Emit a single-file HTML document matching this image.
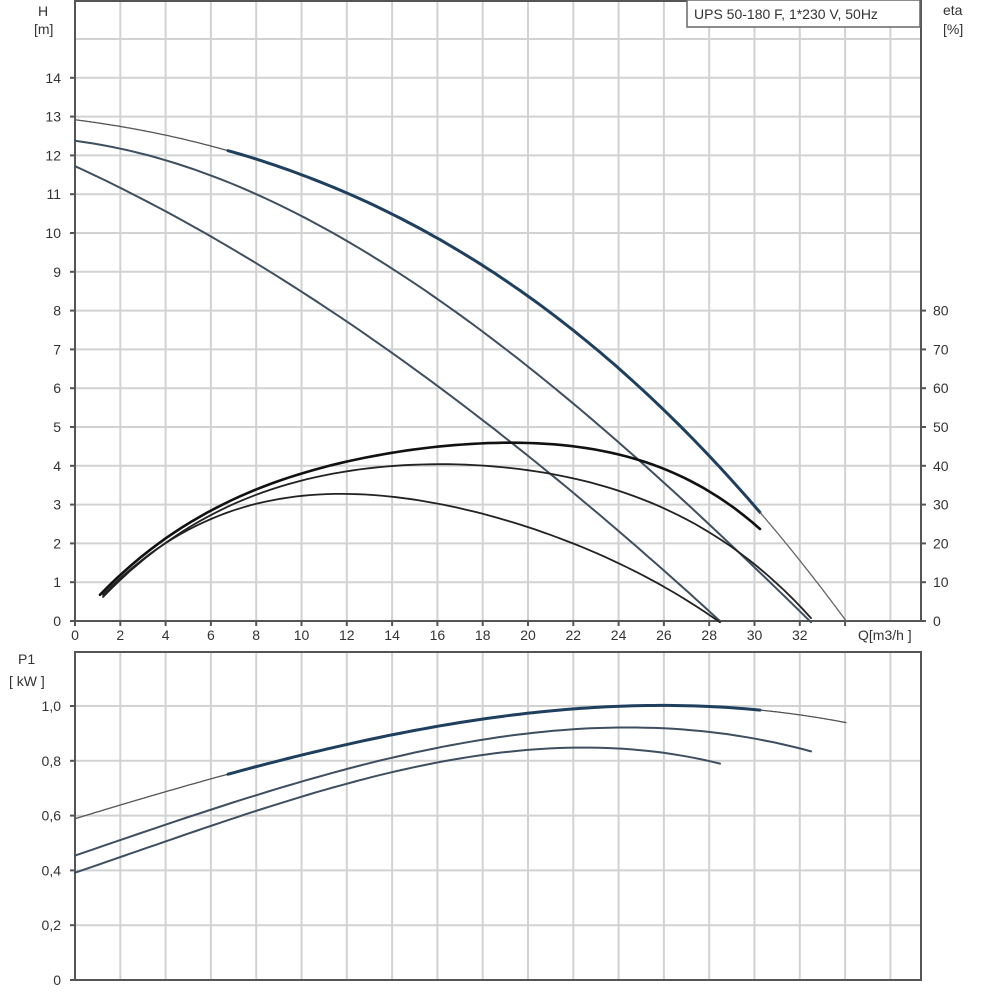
<!DOCTYPE html>
<html><head><meta charset="utf-8">
<style>
html,body{margin:0;padding:0;background:#fff;}
svg{display:block;font-family:"Liberation Sans",sans-serif;}
</style></head>
<body>
<svg id="s" width="984" height="1000" viewBox="0 0 984 1000" xmlns="http://www.w3.org/2000/svg">
<g id="grid" stroke="#d2d2d2" stroke-width="2"></g>
<g id="axes" stroke="#555" stroke-width="2" fill="none">
<line x1="75" y1="0" x2="75" y2="622"/>
<line x1="74" y1="621" x2="922" y2="621"/>
<line x1="921" y1="0" x2="921" y2="622"/>
<line x1="74" y1="1" x2="922" y2="1"/>
<line x1="75" y1="652" x2="75" y2="981"/>
<line x1="74" y1="980" x2="922" y2="980"/>
<line x1="921" y1="652" x2="921" y2="981"/>
<line x1="74" y1="652" x2="922" y2="652"/>
</g>
<g id="ticks" stroke="#555" stroke-width="2"></g>
<g id="labels" font-size="14" fill="#333"></g>
<rect x="687" y="0" width="233" height="27" fill="#fff" stroke="#666" stroke-width="1.5"/>
<text x="694" y="19" font-size="14" fill="#333">UPS 50-180 F, 1*230 V, 50Hz</text>
<text x="943" y="15" font-size="14" fill="#333">eta</text>
<text x="943" y="34" font-size="14" fill="#333">[%]</text>
<text x="38" y="16" font-size="14" fill="#333">H</text>
<text x="34" y="34" font-size="14" fill="#333">[m]</text>
<text x="18" y="664" font-size="14" fill="#333">P1</text>
<text x="9" y="686" font-size="14" fill="#333">[ kW ]</text>
<text x="858" y="640" font-size="14" fill="#333">Q[m3/h ]</text>
<g id="curves" fill="none" stroke-linecap="round"></g>
</svg>
<script>
var NS="http://www.w3.org/2000/svg";
function el(p,t,a,txt){var e=document.createElementNS(NS,t);for(var k in a)e.setAttribute(k,a[k]);if(txt!==undefined)e.textContent=txt;document.getElementById(p).appendChild(e);}
var X=function(q){return 75+q*22.65;};
for(var q=2;q<=36;q+=2){var x=X(q);el('grid','line',{x1:x,y1:0,x2:x,y2:621});el('grid','line',{x1:x,y1:652,x2:x,y2:980});}
for(var h=1;h<=15;h++){var y=621-h*38.8;el('grid','line',{x1:75,y1:y,x2:921,y2:y});}
for(var i=1;i<=5;i++){var y=980-i*54.8;el('grid','line',{x1:75,y1:y,x2:921,y2:y});}
for(var q=0;q<=32;q+=2){var x=X(q);el('ticks','line',{x1:x,y1:621,x2:x,y2:626});el('labels','text',{x:x,y:640,'text-anchor':'middle'},q);}
el('ticks','line',{x1:X(34),y1:621,x2:X(34),y2:626});
for(var h=0;h<=14;h++){var y=621-h*38.8;el('ticks','line',{x1:70,y1:y,x2:75,y2:y});el('labels','text',{x:61,y:y+5,'text-anchor':'end'},h);}
for(var e=0;e<=80;e+=10){var y=621-e/10*38.8;el('ticks','line',{x1:921,y1:y,x2:926,y2:y});el('labels','text',{x:933,y:y+5},e);}
var pl=['0','0,2','0,4','0,6','0,8','1,0'];
for(var i=0;i<=5;i++){var y=980-i*54.8;el('ticks','line',{x1:70,y1:y,x2:75,y2:y});el('labels','text',{x:61,y:y+5,'text-anchor':'end'},pl[i]);}
// least squares polynomial fit
function fit(pts,deg){var n=deg+1,A=[],b=[];for(var i=0;i<n;i++){A.push(new Array(n).fill(0));b.push(0);}
pts.forEach(function(p){var t=(p[0]-75)/100;for(var i=0;i<n;i++){b[i]+=p[1]*Math.pow(t,i);for(var j=0;j<n;j++)A[i][j]+=Math.pow(t,i+j);}});
for(var i=0;i<n;i++){var m=i;for(var k=i+1;k<n;k++)if(Math.abs(A[k][i])>Math.abs(A[m][i]))m=k;var tmp=A[i];A[i]=A[m];A[m]=tmp;tmp=b[i];b[i]=b[m];b[m]=tmp;
for(var k=i+1;k<n;k++){var f=A[k][i]/A[i][i];for(var j=i;j<n;j++)A[k][j]-=f*A[i][j];b[k]-=f*b[i];}}
var c=new Array(n);for(var i=n-1;i>=0;i--){var s=b[i];for(var j=i+1;j<n;j++)s-=A[i][j]*c[j];c[i]=s/A[i][i];}
return function(x){var t=(x-75)/100,s=0;for(var i=0;i<n;i++)s+=c[i]*Math.pow(t,i);return s;};}
function seg(f,x0,x1,col,w){var d='';for(var x=x0;x<=x1+0.01;x+=(x1-x0)/80){d+=(d?' L':'M')+x.toFixed(1)+','+f(x).toFixed(1);}el('curves','path',{d:d,stroke:col,'stroke-width':w});}
var fA=fit([[75,120],[228,150],[380,207],[480,268],[580,332],[680,427],[760,512],[846,621]],3);
seg(fA,75,228,'#555',1.3);seg(fA,228,760,'#1e3f5e',3);seg(fA,760,846,'#666',1.3);
var fB=fit([[75,138],[119,150],[165,163],[228,182],[300,215],[380,260],[480,327],[580,410],[680,500],[811,621]],3);
seg(fB,75,811,'#3d4f60',2);
var fC=fit([[75,166],[140,200],[210,232],[380,350],[480,413],[580,500],[720,621]],3);
seg(fC,75,720,'#3d4f60',2);
var e1=fit([[100,594],[165,540],[210,512],[300,472],[380,455],[480,443],[580,450],[680,473],[760,530]],4);
seg(e1,100,760,'#111',2.6);
var e2=fit([[103,596],[165,545],[210,516],[300,480],[380,465],[480,467],[580,482],[680,513],[760,570],[811,618]],4);
seg(e2,103,811,'#222',1.8);
var e3=fit([[103,596],[165,542],[210,518],[300,498],[380,498],[480,510],[570,540],[640,578],[720,621]],4);
seg(e3,103,720,'#222',1.8);
var pA=fit([[75,818],[150,797],[228,775],[300,755],[400,733],[500,716],[560,710],[620,706],[660,706],[760,711],[846,722]],3);
seg(pA,75,228,'#555',1.3);seg(pA,228,760,'#1e3f5e',3);seg(pA,760,846,'#555',1.3);
var pB=fit([[75,855],[150,830],[228,805],[300,783],[400,755],[500,737],[560,728],[620,727],[660,729],[740,740],[811,749]],3);
seg(pB,75,811,'#3d4f60',2);
var pC=fit([[75,872],[150,848],[228,820],[300,797],[400,770],[500,752],[560,748],[620,750],[720,763]],3);
seg(pC,75,720,'#3d4f60',2);
</script>
</body></html>
